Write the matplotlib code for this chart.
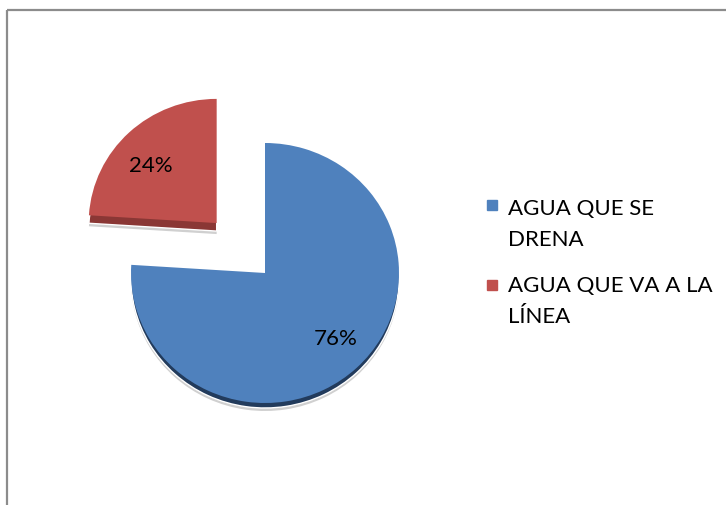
import matplotlib
matplotlib.use("Agg")
import matplotlib.pyplot as plt

# ---- data ----
categories = ["AGUA QUE SE\nDRENA", "AGUA QUE VA A LA\nLÍNEA"]
values = [76, 24]
pct_labels = ["76%", "24%"]
colors = ["#4F81BD", "#C0504D"]
dark_colors = ["#223B5C", "#8A3735"]

W, H = 726, 506
plt.rcParams['font.family'] = ['Lato', 'DejaVu Sans']

fig = plt.figure(figsize=(W / 100, H / 100), dpi=100)
ax = fig.add_axes([0, 0, 1, 1])

rx, ry = 134.0, 130.0
k = rx / ry          # data y unit = 1/k px
r_red = 128.0        # back slice looks smaller (perspective)


def P(px, py):
    return px, (H - py) * k


cx, cy = P(265, 274)
explode = [0, 70.6]          # offsets in data units
depth = [5, 8]               # px
common = dict(startangle=90, counterclock=False, radius=rx, explode=explode)


def finish(ws, dy_extra):
    for w, d in zip(ws, dy_extra):
        x, y = w.center
        w.set_center((x, y - d * k))
    ws[1].set_radius(r_red)


# soft shadow
sh, _ = ax.pie(values, colors=["#D0D0D0", "#D0D0D0"], center=(cx, cy),
               wedgeprops=dict(linewidth=0), **common)
finish(sh, [d + 3 for d in depth])
# side (depth)
sd, _ = ax.pie(values, colors=dark_colors, center=(cx, cy),
               wedgeprops=dict(linewidth=1.0, edgecolor="white"), **common)
finish(sd, depth)
# top face
wedges, _ = ax.pie(values, colors=colors, center=(cx, cy),
                   wedgeprops=dict(linewidth=0), **common)
finish(wedges, [0, 0])

# percentage labels
label_pos = [(336, 345), (151, 172)]
for txt, (px, py) in zip(pct_labels, label_pos):
    ax.text(*P(px, py), txt, fontsize=16, ha="center", va="baseline", color="black")

# legend (manual, first line aligned with marker)
leg_marker = [(492, 206), (492, 286)]
leg_base = [(508, 215), (508, 292)]
line_gap = 31
for cat, col, (mx, my), (tx, ty) in zip(categories, colors, leg_marker, leg_base):
    ax.plot(*P(mx, my), marker="s", markersize=6.8, color=col, linestyle="none")
    for i, line in enumerate(cat.split("\n")):
        ax.text(*P(tx, ty + i * line_gap), line, fontsize=16, ha="left",
                va="baseline", color="black")

# chart frame (only top and left visible)
x0, y0 = P(6.5, 10.5)
ax.plot([x0, W + 5], [y0, y0], color="#8C8C8C", lw=1.6, clip_on=False,
        solid_capstyle="butt")
ax.plot([x0, x0], [y0, -5], color="#8C8C8C", lw=1.6, clip_on=False,
        solid_capstyle="butt")

ax.set_xlim(0, W)
ax.set_ylim(0, H * k)
ax.set_aspect("auto")
ax.axis("off")

fig.savefig("out.png", dpi=100, facecolor="white")
